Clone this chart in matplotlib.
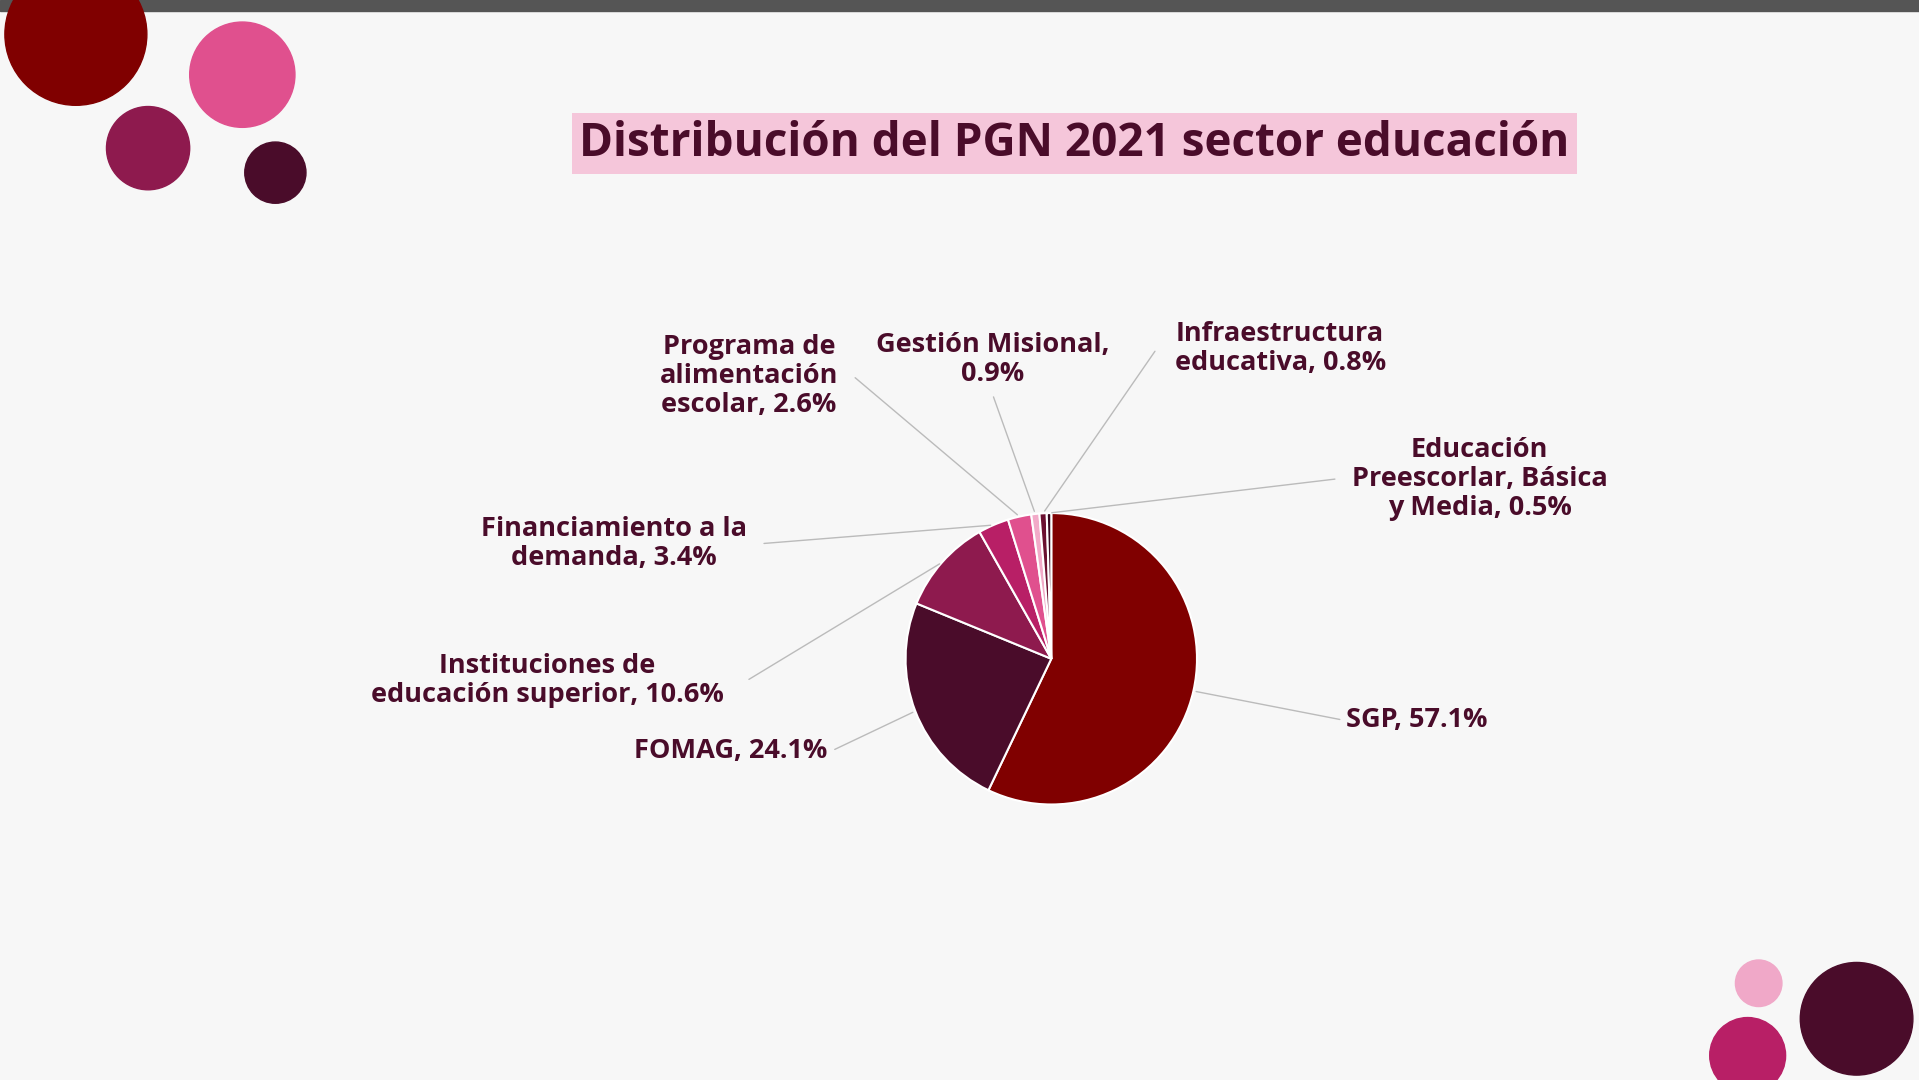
import matplotlib
matplotlib.use("Agg")
import matplotlib.pyplot as plt
import numpy as np
from matplotlib.patches import Circle, Rectangle

labels = ["SGP, 57.1%", "FOMAG, 24.1%", "Instituciones de\neducación superior, 10.6%",
          "Financiamiento a la\ndemanda, 3.4%", "Programa de\nalimentación\nescolar, 2.6%",
          "Gestión Misional,\n0.9%", "Infraestructura\neducativa, 0.8%",
          "Educación\nPreescorlar, Básica\ny Media, 0.5%"]
values = [57.1, 24.1, 10.6, 3.4, 2.6, 0.9, 0.8, 0.5]
colors = ["#800000", "#4a0c2a", "#8e1a4e", "#b81f66", "#e0508e", "#f2aac8", "#6b1030", "#3a0820"]
# label anchor positions in reference pixel space (1568x882)
label_pos = [(1100, 588, "left"), (676, 613, "right"), (447, 556, "center"), (502, 444, "center"),
             (612, 307, "center"), (811, 294, "center"), (1046, 285, "center"), (1209, 391, "center")]
line_end = [(1097, 588), (680, 613), (610, 556), (622, 444), (697, 307), (811, 322), (945, 285), (1093, 391)]

W, H = 1568, 882
txtc = "#4a0c2a"
fig = plt.figure(figsize=(19.19, 10.8), dpi=100, facecolor="#f7f7f7")
ff = lambda x, y: (x / W, 1 - y / H)

# decorations
bg = fig.add_axes([0, 0, 1, 1]); bg.set_xlim(0, W); bg.set_ylim(H, 0); bg.axis("off")
bg.add_patch(Rectangle((0, 0), W, 9, color="#555555"))
for (x, y, r, c) in [(62, 28, 58, "#800000"), (198, 61, 43, "#e0508e"), (121, 121, 34, "#8e1a4e"),
                     (225, 141, 25, "#4a0c2a"), (1437, 803, 19, "#f0a8c8"), (1428, 862, 31, "#b81f66"),
                     (1517, 832, 46, "#4a0c2a")]:
    bg.add_patch(Circle((x, y), r, color=c))

fig.text(*ff(878, 117), "Distribución del PGN 2021 sector educación", ha="center", va="center",
         fontsize=33, fontweight="bold", family="Open Sans", color=txtc,
         bbox=dict(boxstyle="square,pad=0.15", fc="#f5c6da", ec="none"))

cx, cy = ff(859, 538)
rh = 119 / H
axh = 2 * rh
axw = axh * 1080 / 1919
ax = fig.add_axes([cx - axw / 2, cy - axh / 2, axw, axh])
wedges, _ = ax.pie(values, colors=colors, startangle=90, counterclock=False,
                   wedgeprops=dict(edgecolor="white", linewidth=1.5))
ax.set_xlim(-1, 1); ax.set_ylim(-1, 1); ax.set_aspect("equal")

for w, lab, (lx, ly, ha), (ex, ey) in zip(wedges, labels, label_pos, line_end):
    a = np.deg2rad((w.theta1 + w.theta2) / 2)
    p = (np.cos(a), np.sin(a))
    ax.annotate("", xy=p, xycoords="data", xytext=ff(ex, ey), textcoords="figure fraction",
                arrowprops=dict(arrowstyle="-", color="#bbbbbb", lw=1), annotation_clip=False)
    fig.text(*ff(lx, ly), lab, ha=ha, va="center", multialignment="center", fontsize=19.5,
             fontweight="bold", family="Open Sans", color=txtc, linespacing=1.15)

fig.savefig("out.png", dpi=100, facecolor=fig.get_facecolor())
